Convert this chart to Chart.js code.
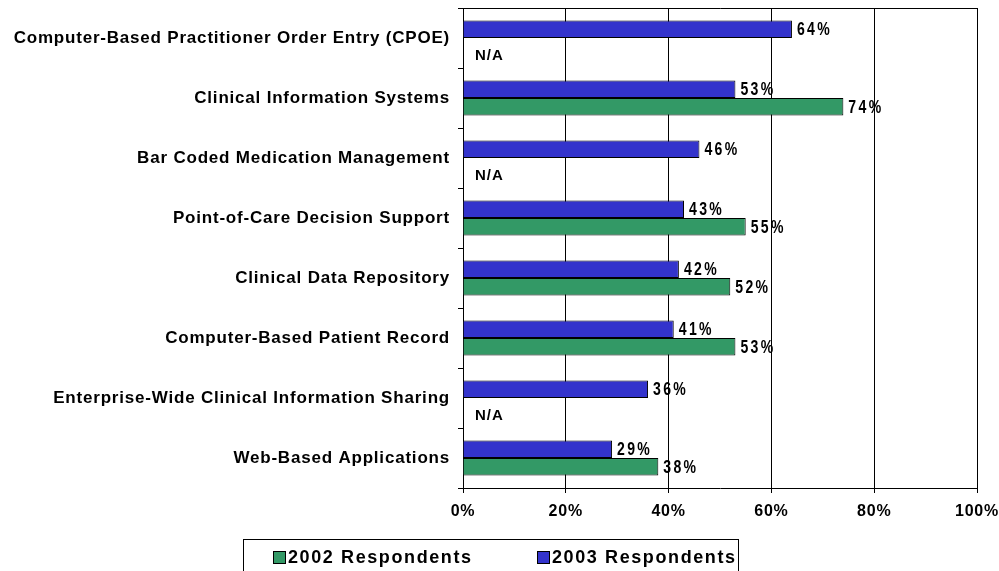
<!DOCTYPE html>
<html>
<head>
<meta charset="utf-8">
<script src="https://cdn.jsdelivr.net/npm/chart.js@4/dist/chart.umd.min.js"></script>
<style>
  html, body { margin: 0; padding: 0; background: #fff; }
  #wrap { width: 999px; height: 571px; position: relative; }
</style>
</head>
<body>
<div id="wrap"><canvas id="chart" width="999" height="571"></canvas></div>
<script>
const categories = [
  'Computer-Based Practitioner Order Entry (CPOE)',
  'Clinical Information Systems',
  'Bar Coded Medication Management',
  'Point-of-Care Decision Support',
  'Clinical Data Repository',
  'Computer-Based Patient Record',
  'Enterprise-Wide Clinical Information Sharing',
  'Web-Based Applications'
];
const respondents2003 = [64, 53, 46, 43, 42, 41, 36, 29];
const respondents2002 = [null, 74, null, 55, 52, 53, null, 38];
const xTicks = [0, 20, 40, 60, 80, 100];

const BLUE = '#3333CC';
const GREEN = '#339966';
const FONT = '"Liberation Sans", Arial, sans-serif';

// old-style spaced lettering for axis text
const spacing = {
  id: 'spacing',
  beforeDraw(chart) {
    chart.ctx.letterSpacing = '0.8px';
  }
};

// value labels at bar ends, N/A for missing 2002 values
const barLabels = {
  id: 'barLabels',
  afterDatasetsDraw(chart) {
    const ctx = chart.ctx;
    ctx.save();
    ctx.fillStyle = '#000';
    ctx.textBaseline = 'middle';
    ctx.textAlign = 'left';
    chart.data.datasets.forEach(function (ds, di) {
      const meta = chart.getDatasetMeta(di);
      meta.data.forEach(function (bar, i) {
        const v = ds.data[i];
        if (v == null) {
          ctx.font = 'bold 15px ' + FONT;
          ctx.letterSpacing = '1px';
          ctx.fillText('N/A', chart.chartArea.left + 12, bar.y + 9);
        } else {
          // condensed look: squeeze the glyphs sideways
          ctx.save();
          ctx.font = 'bold 18px ' + FONT;
          ctx.letterSpacing = '3px';
          ctx.translate(bar.x + 5, bar.y + 1);
          ctx.scale(0.78, 1);
          ctx.fillText(v + '%', 0, 0);
          ctx.restore();
        }
      });
    });
    ctx.restore();
  }
};

// plot frame and boxed legend
const frameAndLegend = {
  id: 'frameAndLegend',
  afterDraw(chart) {
    const ctx = chart.ctx;
    const a = chart.chartArea;
    ctx.save();
    ctx.strokeStyle = '#000';
    ctx.lineWidth = 1;
    ctx.beginPath();
    ctx.moveTo(a.left, a.top + 0.5);
    ctx.lineTo(a.right + 0.5, a.top + 0.5);
    ctx.lineTo(a.right + 0.5, a.bottom);
    ctx.stroke();

    ctx.strokeRect(243.5, 539.5, 495, 40);
    const items = chart.data.datasets.slice().reverse();
    const xs = [273, 537];
    ctx.font = 'bold 18px ' + FONT;
    ctx.letterSpacing = '1.6px';
    ctx.textBaseline = 'middle';
    items.forEach(function (ds, i) {
      ctx.fillStyle = ds.backgroundColor;
      ctx.fillRect(xs[i], 551, 12, 12);
      ctx.strokeRect(xs[i] + 0.5, 551.5, 12, 12);
      ctx.fillStyle = '#000';
      ctx.fillText(ds.label, xs[i] + 15, 558);
    });
    ctx.restore();
  }
};

new Chart(document.getElementById('chart'), {
  type: 'bar',
  data: {
    labels: categories,
    datasets: [
      {
        label: '2003 Respondents',
        data: respondents2003,
        backgroundColor: BLUE,
        borderColor: '#000',
        borderWidth: 1,
        categoryPercentage: 0.58,
        barPercentage: 1
      },
      {
        label: '2002 Respondents',
        data: respondents2002,
        backgroundColor: GREEN,
        borderColor: '#000',
        borderWidth: 1,
        categoryPercentage: 0.58,
        barPercentage: 1
      }
    ]
  },
  options: {
    indexAxis: 'y',
    responsive: false,
    animation: false,
    layout: { padding: { top: 8, right: 22, left: 0, bottom: 0 } },
    plugins: {
      legend: { display: false },
      tooltip: { enabled: false }
    },
    scales: {
      x: {
        min: 0,
        max: 100,
        afterBuildTicks: function (scale) {
          scale.ticks = xTicks.map(function (v) { return { value: v }; });
        },
        afterFit: function (scale) {
          scale.height = 83;
          scale.paddingLeft = 0;
          scale.paddingRight = 0;
        },
        grid: { color: '#000', lineWidth: 1, drawTicks: true, tickLength: 5 },
        border: { color: '#000' },
        ticks: {
          color: '#000',
          padding: 9,
          font: { family: FONT, weight: 'bold', size: 16 },
          callback: function (v) { return v + '%'; }
        }
      },
      y: {
        afterFit: function (scale) {
          scale.width = 463;
          scale.paddingTop = 0;
          scale.paddingBottom = 0;
        },
        grid: { drawOnChartArea: false, color: '#000', tickLength: 5, offset: true },
        border: { color: '#000' },
        ticks: {
          color: '#000',
          padding: 8,
          font: { family: FONT, weight: 'bold', size: 17 }
        }
      }
    }
  },
  plugins: [spacing, barLabels, frameAndLegend]
});
</script>
</body>
</html>
